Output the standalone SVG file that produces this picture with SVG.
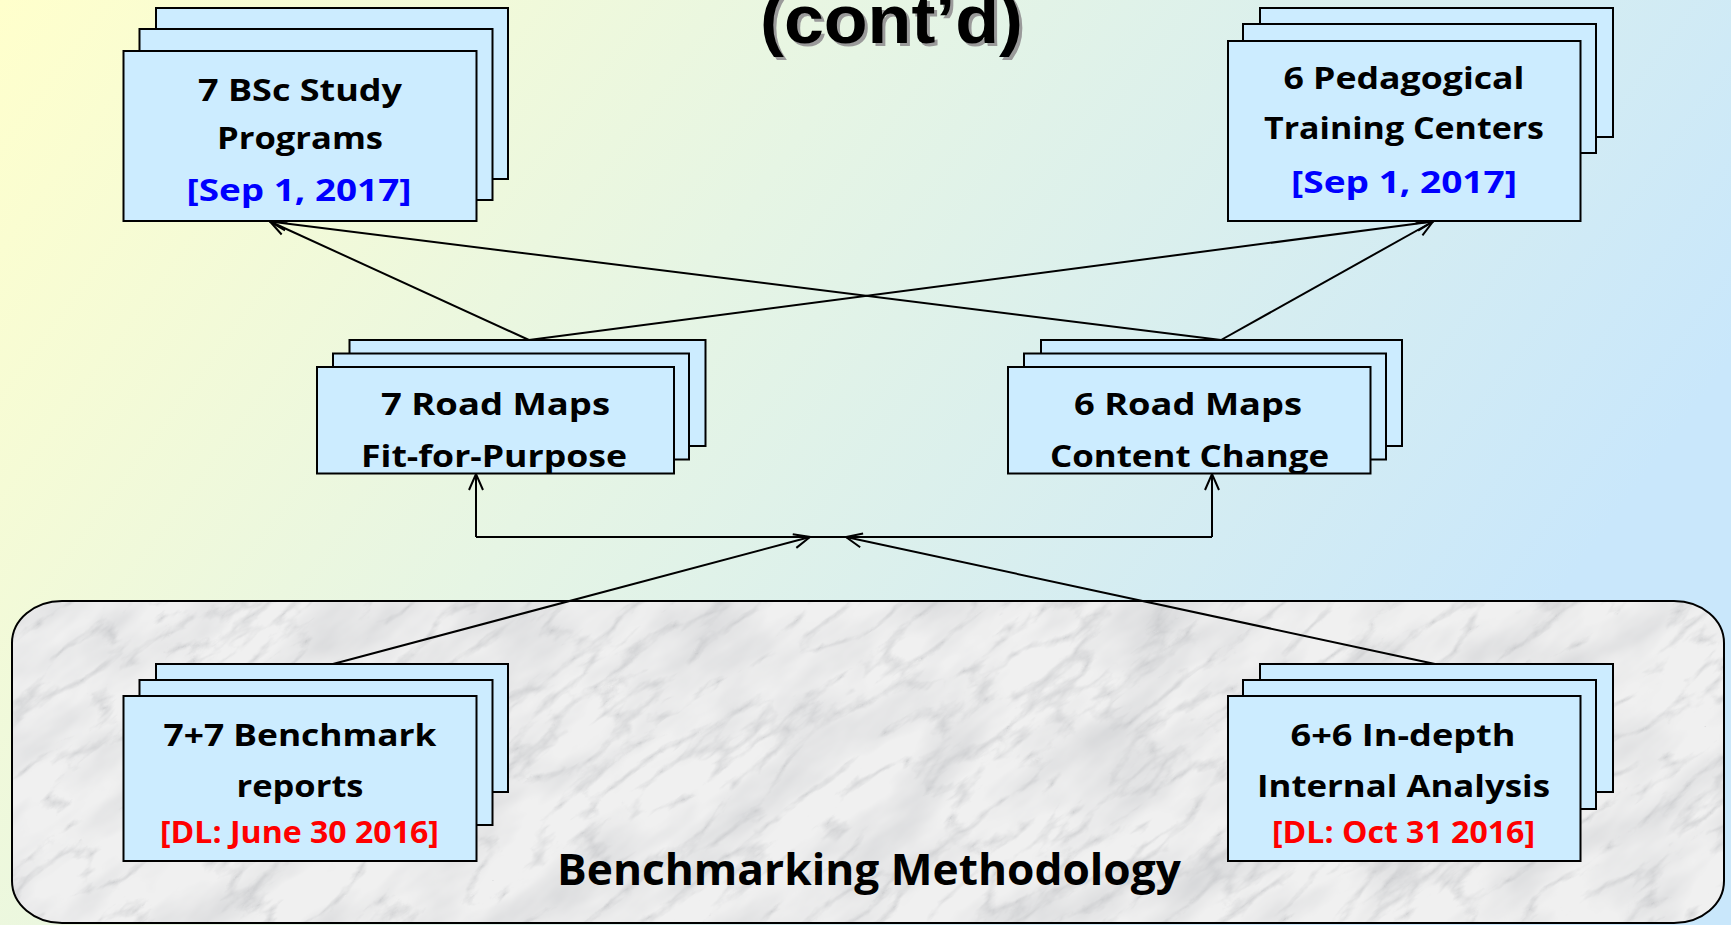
<svg xmlns="http://www.w3.org/2000/svg" width="1731" height="925" viewBox="0 0 1731 925">
<defs>
<linearGradient id="bg" gradientUnits="userSpaceOnUse" x1="0" y1="0" x2="1300" y2="950">
<stop offset="0" stop-color="#FFFFCC"/>
<stop offset="0.45" stop-color="#E6F5E4"/>
<stop offset="1" stop-color="#C9E7FB"/>
</linearGradient>
<clipPath id="rr">
<rect x="12" y="601" width="1712" height="322" rx="50" ry="42"/>
</clipPath>
<filter id="marble" x="0" y="0" width="100%" height="100%" filterUnits="objectBoundingBox">
<feTurbulence type="turbulence" baseFrequency="0.01 0.028" numOctaves="5" seed="11" result="n"/>
<feColorMatrix in="n" type="matrix" values="0 0 0 0 0.5  0 0 0 0 0.51  0 0 0 0 0.53  -2.4 0 0 0 0.6" result="v"/>
<feTurbulence type="fractalNoise" baseFrequency="0.008 0.02" numOctaves="4" seed="3" result="f"/>
<feColorMatrix in="f" type="matrix" values="0 0 0 0 0.6  0 0 0 0 0.61  0 0 0 0 0.63  1.3 0 0 0 -0.5" result="fm"/>
<feFlood flood-color="#f0f0f0" result="base"/>
<feComposite in="fm" in2="base" operator="over" result="m1"/>
<feComposite in="v" in2="m1" operator="over" result="m"/>
<feComposite in="m" in2="SourceGraphic" operator="in"/>
</filter>
<marker id="ah" viewBox="0 0 20 20" refX="18" refY="10" markerWidth="20" markerHeight="20" markerUnits="userSpaceOnUse" orient="auto">
<path d="M2,3 L18,10 L2,17" fill="none" stroke="#000" stroke-width="2"/>
</marker>
<style>
.card{fill:#CCECFF;stroke:#000;stroke-width:2}
.t{font-family:"Open Sans","Liberation Sans",sans-serif;font-weight:700;font-size:31px;text-anchor:middle;fill:#000}
.b{fill:#0000FF}
.r{fill:#FF0000;font-size:30px}
.c{fill:none;stroke:#000;stroke-width:2}
.ttl{font-family:"Liberation Sans",Arial,sans-serif;font-weight:700;font-size:69px}
</style>
</defs>
<rect x="0" y="0" width="1731" height="925" fill="url(#bg)"/>
<g id="title">
<text class="ttl" x="763" y="46" fill="#9a9a9a" textLength="263" lengthAdjust="spacingAndGlyphs">(cont’d)</text>
<text class="ttl" x="760" y="43" fill="#000" textLength="263" lengthAdjust="spacingAndGlyphs">(cont’d)</text>
</g>
<g id="benchmarking-methodology">
<g clip-path="url(#rr)">
<rect x="12" y="601" width="1712" height="322" fill="#f0f0f0"/>
<g transform="rotate(-38 868 762)">
<rect x="-132" y="-238" width="2000" height="2000" fill="#fff" filter="url(#marble)"/>
</g>
</g>
<rect x="12" y="601" width="1712" height="322" rx="50" ry="42" fill="none" stroke="#000" stroke-width="2"/>
<text class="t" x="869" y="885" style="font-size:43px" textLength="624" lengthAdjust="spacingAndGlyphs">Benchmarking Methodology</text>
</g>
<g id="connectors">
<path class="c" d="M529,340 L270,221.5" marker-end="url(#ah)"/>
<path class="c" d="M529,340 L1433,221.5" marker-end="url(#ah)"/>
<path class="c" d="M1221,340 L270,221.5" marker-end="url(#ah)"/>
<path class="c" d="M1221,340 L1433,221.5" marker-end="url(#ah)"/>
<path class="c" d="M476,537 H1212"/>
<path class="c" d="M476,537 V474" marker-end="url(#ah)"/>
<path class="c" d="M1212,537 V474" marker-end="url(#ah)"/>
<path class="c" d="M333,664 L810,537" marker-end="url(#ah)"/>
<path class="c" d="M1435,664 L846,537" marker-end="url(#ah)"/>
</g>
<g id="bsc-programs">
<rect class="card" x="156" y="8" width="352" height="171"/>
<rect class="card" x="139.5" y="29" width="353" height="171"/>
<rect class="card" x="123.5" y="51" width="353" height="170"/>
<text class="t" x="300" y="100.5" textLength="204" lengthAdjust="spacingAndGlyphs">7 BSc Study</text>
<text class="t" x="300" y="149" textLength="166" lengthAdjust="spacingAndGlyphs">Programs</text>
<text class="t b" x="299" y="201" textLength="225" lengthAdjust="spacingAndGlyphs">[Sep 1, 2017]</text>
</g>
<g id="pedagogical-centers">
<rect class="card" x="1260" y="8" width="353" height="129"/>
<rect class="card" x="1243" y="24" width="353" height="129"/>
<rect class="card" x="1228" y="41" width="352.5" height="180"/>
<text class="t" x="1404" y="89" textLength="241" lengthAdjust="spacingAndGlyphs">6 Pedagogical</text>
<text class="t" x="1404" y="139" textLength="280" lengthAdjust="spacingAndGlyphs">Training Centers</text>
<text class="t b" x="1404" y="193" textLength="226" lengthAdjust="spacingAndGlyphs">[Sep 1, 2017]</text>
</g>
<g id="roadmaps-fit">
<rect class="card" x="349.5" y="340" width="356" height="106"/>
<rect class="card" x="333" y="353.5" width="356" height="106"/>
<rect class="card" x="317" y="367" width="357" height="106.5"/>
<text class="t" x="495.5" y="415" textLength="229" lengthAdjust="spacingAndGlyphs">7 Road Maps</text>
<text class="t" x="494" y="466.5" textLength="266" lengthAdjust="spacingAndGlyphs">Fit-for-Purpose</text>
</g>
<g id="roadmaps-content">
<rect class="card" x="1041" y="340" width="361" height="106"/>
<rect class="card" x="1024" y="353.5" width="362" height="106"/>
<rect class="card" x="1008" y="367" width="362.5" height="106.5"/>
<text class="t" x="1188" y="415" textLength="228" lengthAdjust="spacingAndGlyphs">6 Road Maps</text>
<text class="t" x="1189.5" y="466.5" textLength="279" lengthAdjust="spacingAndGlyphs">Content Change</text>
</g>
<g id="benchmark-reports">
<rect class="card" x="156" y="664" width="352" height="128"/>
<rect class="card" x="139.5" y="680" width="353" height="145"/>
<rect class="card" x="123.5" y="696" width="353" height="165"/>
<text class="t" x="300" y="745.5" textLength="273" lengthAdjust="spacingAndGlyphs">7+7 Benchmark</text>
<text class="t" x="300" y="796.5" textLength="127" lengthAdjust="spacingAndGlyphs">reports</text>
<text class="t r" x="299.5" y="843" textLength="279" lengthAdjust="spacingAndGlyphs">[DL: June 30 2016]</text>
</g>
<g id="internal-analysis">
<rect class="card" x="1260" y="664" width="353" height="128"/>
<rect class="card" x="1243" y="680" width="353" height="129"/>
<rect class="card" x="1228" y="696" width="352.5" height="165"/>
<text class="t" x="1403" y="745.5" textLength="225" lengthAdjust="spacingAndGlyphs">6+6 In-depth</text>
<text class="t" x="1403.5" y="796.5" textLength="293" lengthAdjust="spacingAndGlyphs">Internal Analysis</text>
<text class="t r" x="1403.5" y="843" textLength="263" lengthAdjust="spacingAndGlyphs">[DL: Oct 31 2016]</text>
</g>
</svg>
